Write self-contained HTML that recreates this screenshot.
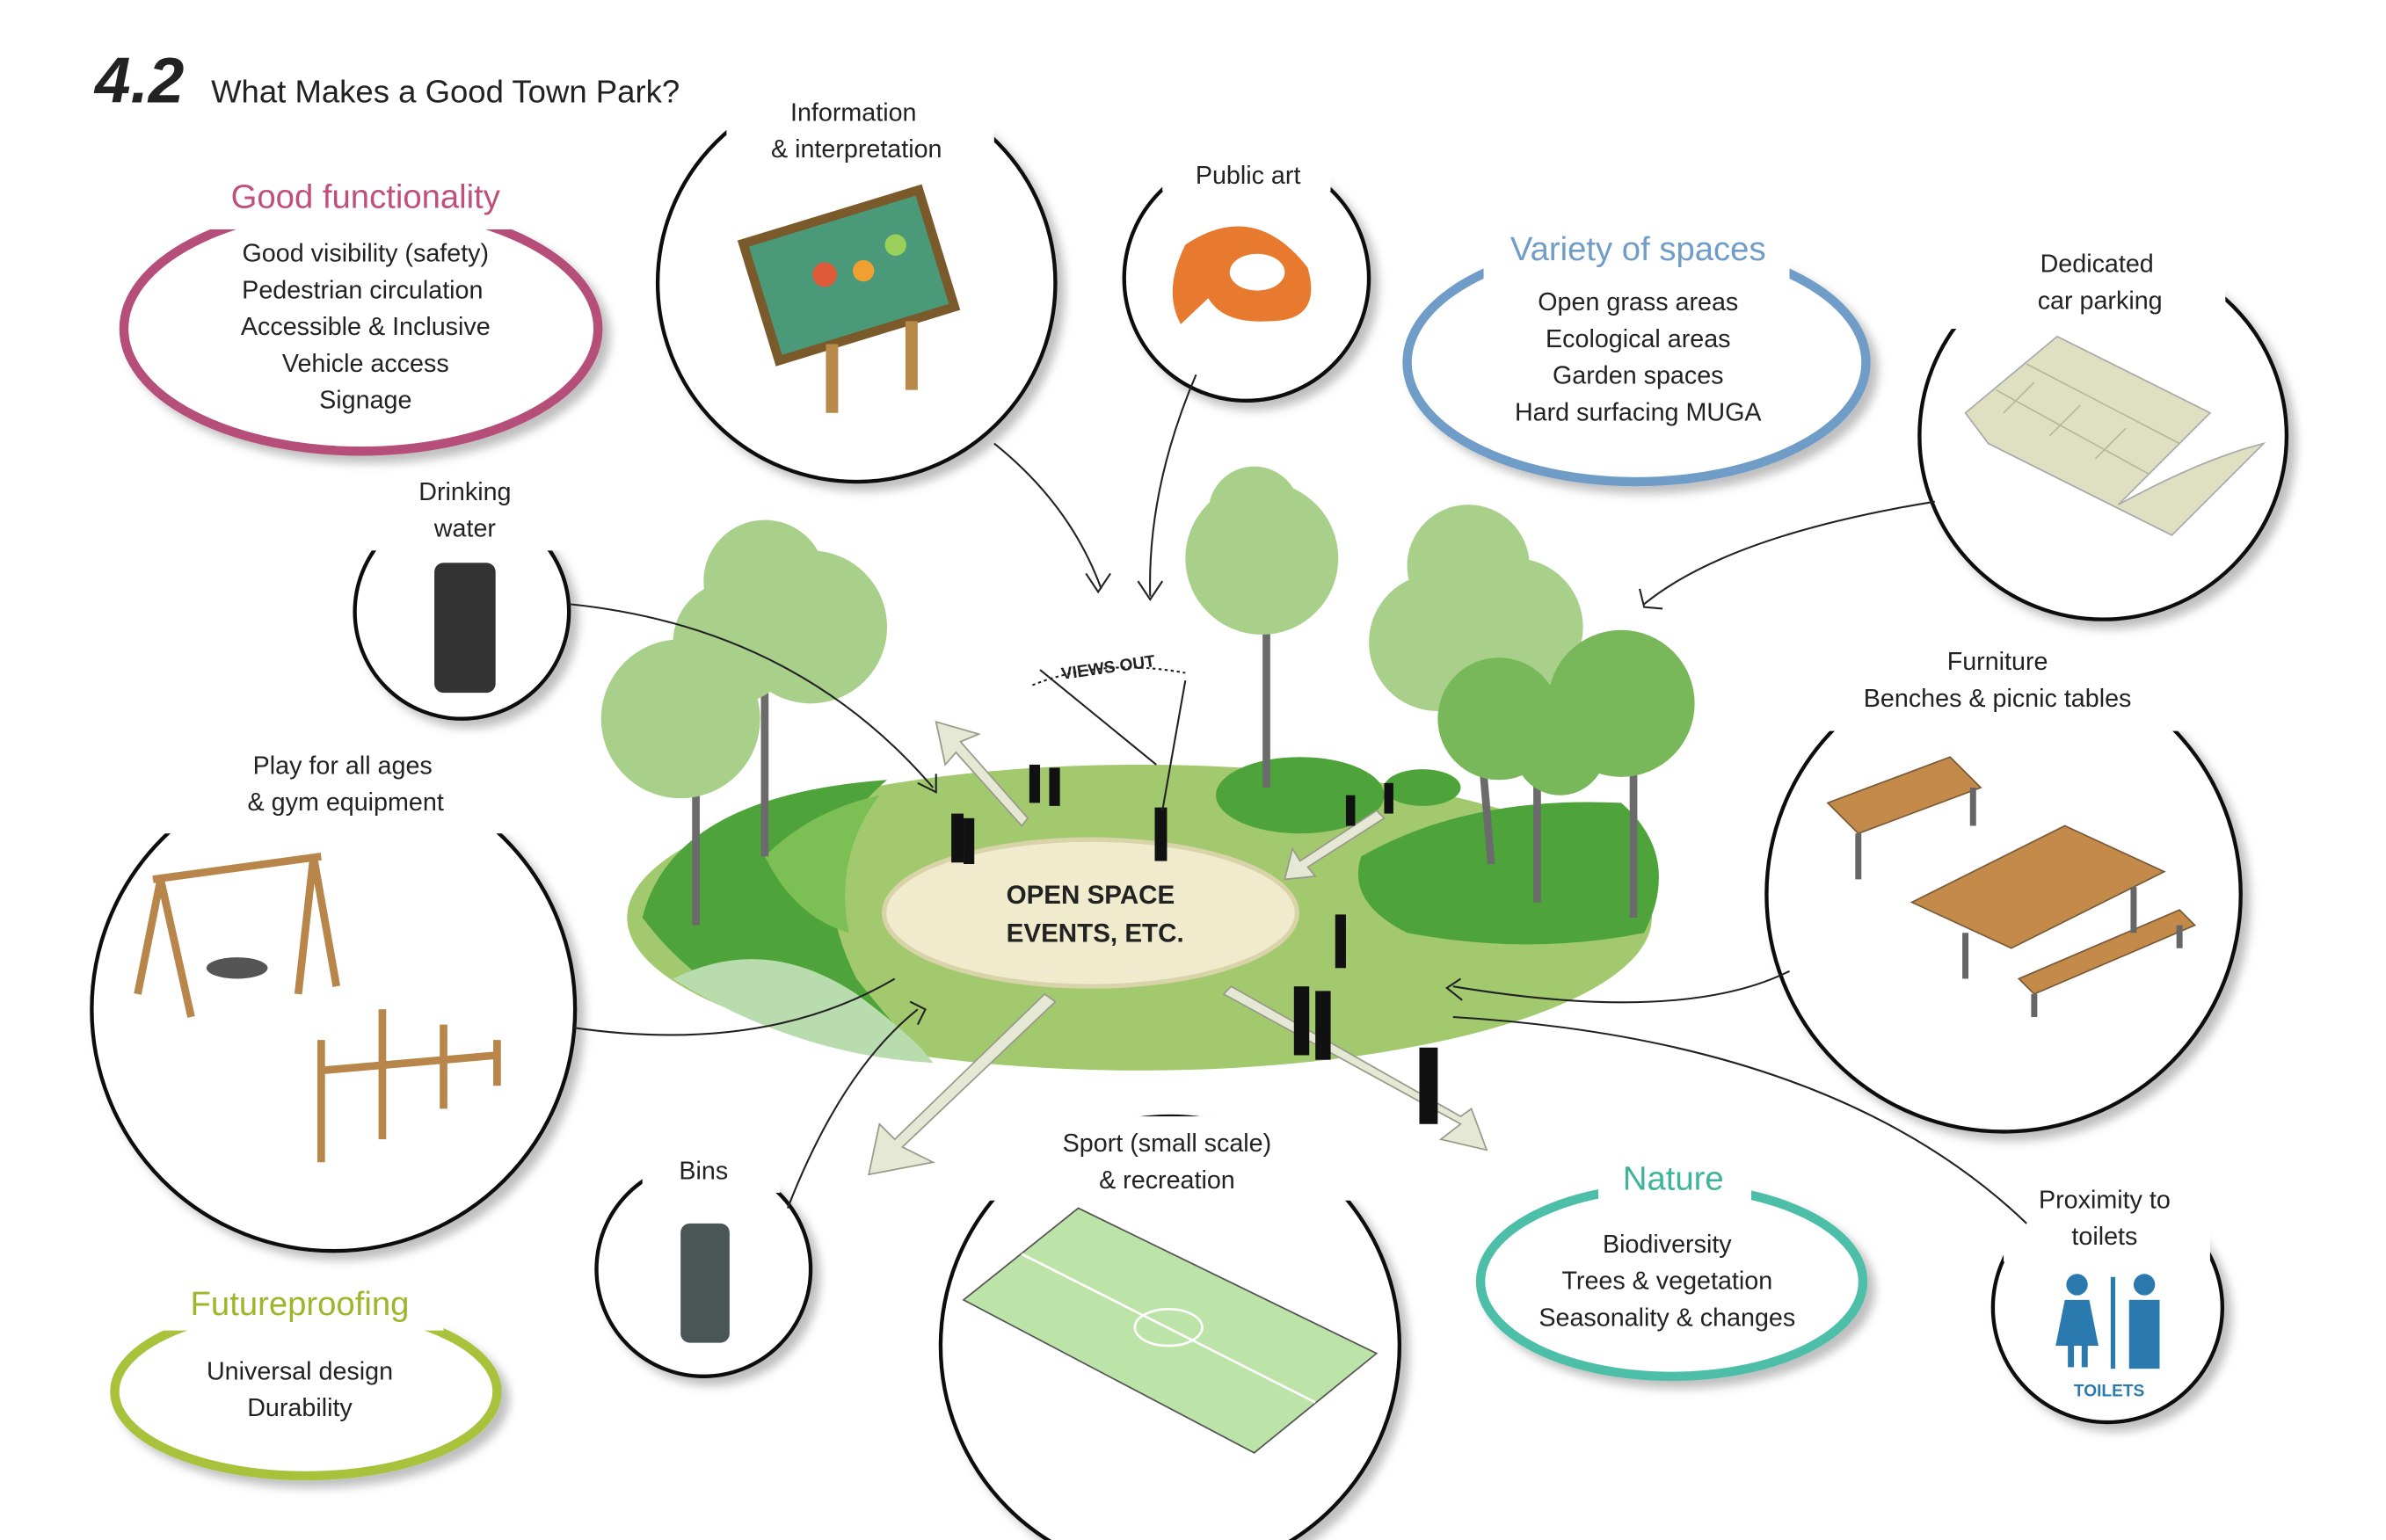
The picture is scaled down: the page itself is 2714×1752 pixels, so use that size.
<!DOCTYPE html>
<html><head><meta charset="utf-8"><style>
html,body{margin:0;padding:0;background:#fff;width:2714px;height:1752px;overflow:hidden}
svg{display:block}
text{font-family:"Liberation Sans","DejaVu Sans",sans-serif;fill:#222}
</style></head><body>
<svg width="2714" height="1752" viewBox="0 0 1560 1007" preserveAspectRatio="none" xmlns="http://www.w3.org/2000/svg">
<defs>
<filter id="sh" x="-20%" y="-20%" width="140%" height="140%"><feDropShadow dx="5" dy="5" stdDeviation="3" flood-color="#000" flood-opacity="0.25"/></filter>
</defs>
<rect width="1560" height="1007" fill="#fff"/>
<text x="62" y="67" font-size="42" font-weight="bold" font-style="italic" fill="#3a4250" font-family="Liberation Serif,serif">4.2</text>
<text x="138" y="67" font-size="21" fill="#222">What Makes a Good Town Park?</text>

<g fill="#fff" stroke="#111" stroke-width="2.5" filter="url(#sh)">
<circle cx="560" cy="185" r="130"/>
<circle cx="815" cy="182" r="80"/>
<circle cx="1375" cy="285" r="120"/>
<circle cx="302" cy="400" r="70"/>
<circle cx="1310" cy="585" r="155"/>
<circle cx="218" cy="660" r="158"/>
<circle cx="460" cy="830" r="70"/>
<circle cx="765" cy="880" r="150"/>
<circle cx="1378" cy="855" r="75"/>
</g>
<g fill="#fff">
<rect x="475" y="50" width="175" height="60"/>
<rect x="760" y="95" width="110" height="30"/>
<rect x="1265" y="155" width="190" height="60"/>
<rect x="240" y="305" width="130" height="55"/>
<rect x="1180" y="418" width="260" height="60"/>
<rect x="70" y="485" width="300" height="60"/>
<rect x="420" y="750" width="90" height="30"/>
<rect x="630" y="730" width="270" height="55"/>
<rect x="1310" y="770" width="135" height="55"/>
</g>

<g fill="#fff" stroke-width="6" filter="url(#sh)">
<ellipse cx="236" cy="215" rx="155" ry="80" stroke="#b5507a"/>
<ellipse cx="1070" cy="237" rx="150" ry="78" stroke="#6f9cc8"/>
<ellipse cx="1093" cy="838" rx="125" ry="62" stroke="#4dbfa8"/>
<ellipse cx="200" cy="910" rx="125" ry="55" stroke="#a9c23a"/>
</g>
<g fill="#fff">
<rect x="130" y="110" width="220" height="40"/>
<rect x="970" y="145" width="200" height="40"/>
<rect x="1045" y="755" width="100" height="35"/>
<rect x="105" y="835" width="185" height="35"/>
</g>
<g text-anchor="middle">
<text x="239" y="136" font-size="22" style="fill:#c0507a">Good functionality</text>
<g font-size="16.5"><text x="239" y="171">Good visibility (safety)</text><text x="237" y="195">Pedestrian circulation</text><text x="239" y="219">Accessible &amp; Inclusive</text><text x="239" y="243">Vehicle access</text><text x="239" y="267">Signage</text></g>
<text x="1071" y="170" font-size="22" style="fill:#6f9cc8">Variety of spaces</text>
<g font-size="16.5"><text x="1071" y="203">Open grass areas</text><text x="1071" y="227">Ecological areas</text><text x="1071" y="251">Garden spaces</text><text x="1071" y="275">Hard surfacing MUGA</text></g>
<text x="1094" y="778" font-size="22" style="fill:#3db59a">Nature</text>
<g font-size="16.5"><text x="1090" y="819">Biodiversity</text><text x="1090" y="843">Trees &amp; vegetation</text><text x="1090" y="867">Seasonality &amp; changes</text></g>
<text x="196" y="860" font-size="22" style="fill:#9db62a">Futureproofing</text>
<g font-size="16.5"><text x="196" y="902">Universal design</text><text x="196" y="926">Durability</text></g>
<g font-size="16.5">
<text x="558" y="79">Information</text><text x="560" y="103">&amp; interpretation</text>
<text x="816" y="120">Public art</text>
<text x="1371" y="178">Dedicated</text><text x="1373" y="202">car parking</text>
<text x="304" y="327">Drinking</text><text x="304" y="351">water</text>
<text x="1306" y="438">Furniture</text><text x="1306" y="462">Benches &amp; picnic tables</text>
<text x="224" y="506">Play for all ages</text><text x="226" y="530">&amp; gym equipment</text>
<text x="460" y="771">Bins</text>
<text x="763" y="753">Sport (small scale)</text><text x="763" y="777">&amp; recreation</text>
<text x="1376" y="790">Proximity to</text><text x="1376" y="814">toilets</text>
</g>
</g>

<ellipse cx="745" cy="600" rx="335" ry="100" fill="#a3c96e"/>
<g fill="#4ea33a">
<path d="M420 600 Q440 520 580 510 Q520 560 560 640 Q600 690 610 695 Q480 680 420 600Z"/>
<path d="M890 560 Q960 520 1060 525 Q1100 560 1075 610 Q1000 625 920 610 Q880 590 890 560Z"/>
<ellipse cx="850" cy="520" rx="55" ry="25"/>
<ellipse cx="930" cy="515" rx="25" ry="12"/>
</g>
<path d="M440 640 Q500 610 560 650 Q600 680 610 695 Q520 690 440 640Z" fill="#b8dcae"/>
<path d="M500 560 Q530 530 575 520 Q545 560 555 610 Q520 600 500 560Z" fill="#7cbf55"/>
<ellipse cx="713" cy="597" rx="135" ry="48" fill="#efebcc" stroke="#d8d3a8" stroke-width="3"/>
<text x="713" y="591" text-anchor="middle" font-size="17" font-weight="bold" fill="#222">OPEN SPACE</text>
<text x="716" y="616" text-anchor="middle" font-size="17" font-weight="bold" fill="#222">EVENTS, ETC.</text>
<text x="725" y="440" text-anchor="middle" font-size="11" font-weight="bold" transform="rotate(-8 725 440)">VIEWS OUT</text>
<g stroke="#6b6b6b" stroke-width="5"><line x1="455" y1="480" x2="455" y2="605"/><line x1="500" y1="400" x2="500" y2="560"/><line x1="828" y1="390" x2="828" y2="515"/><line x1="960" y1="390" x2="975" y2="565"/><line x1="1005" y1="480" x2="1005" y2="590"/><line x1="1068" y1="480" x2="1068" y2="600"/></g>
<g fill="#a8d08a">
<circle cx="500" cy="380" r="40"/><circle cx="530" cy="410" r="50"/><circle cx="480" cy="420" r="40"/>
<circle cx="445" cy="470" r="52"/>
<circle cx="825" cy="365" r="50"/><circle cx="820" cy="335" r="30"/>
<circle cx="960" cy="370" r="40"/><circle cx="940" cy="420" r="45"/><circle cx="990" cy="410" r="45"/>
</g>
<g fill="#78b85a"><circle cx="980" cy="470" r="40"/><circle cx="1060" cy="460" r="48"/><circle cx="1020" cy="490" r="30"/></g>
<g fill="#e6e8d6" stroke="#9a9a8a" stroke-width="1">
<path d="M690 655 L590 750 L610 760 L568 768 L575 735 L585 745 L683 650Z"/>
<path d="M800 650 L955 735 L942 745 L972 752 L962 725 L955 730 L805 645Z"/>
<path d="M672 535 L628 485 L640 480 L612 472 L618 500 L625 492 L668 540Z"/>
<path d="M900 530 L850 563 L845 555 L840 575 L860 573 L855 567 L905 535Z"/>
</g>
<g fill="#111"><rect x="673" y="500" width="7" height="25"/><rect x="686" y="502" width="7" height="25"/><rect x="755" y="528" width="8" height="35"/><rect x="622" y="532" width="8" height="32"/><rect x="630" y="535" width="7" height="30"/><rect x="873" y="598" width="7" height="35"/><rect x="846" y="645" width="10" height="45"/><rect x="860" y="648" width="10" height="45"/><rect x="928" y="685" width="12" height="50"/><rect x="880" y="520" width="6" height="20"/><rect x="905" y="512" width="6" height="20"/></g>
<g fill="none" stroke="#222" stroke-width="1.2">
<path d="M650 290 Q700 330 720 385"/><path d="M710 375 L718 387 L726 375"/>
<path d="M782 245 Q750 320 752 390"/><path d="M744 380 L752 392 L760 380"/>
<path d="M1265 328 Q1130 350 1075 395"/><path d="M1072 385 L1075 397 L1087 398"/>
<path d="M372 395 Q520 410 610 515"/><path d="M600 512 L612 518 L612 506"/>
<path d="M1170 635 Q1100 670 950 645"/><path d="M955 640 L946 646 L956 654"/>
<path d="M1325 800 Q1200 680 950 665"/>
<path d="M375 672 Q500 690 585 640"/><path d="M595 655 L605 660 L600 670"/>
<path d="M515 790 Q550 700 600 660"/>
<path d="M680 438 L756 500 M775 445 L760 530"/>
<path d="M675 448 Q720 430 775 440" stroke-dasharray="2 2"/>
</g>
<g transform="rotate(-17 555 180)"><rect x="495" y="140" width="120" height="80" fill="#4a9a7a" stroke="#7a5a2a" stroke-width="6"/><circle cx="540" cy="175" r="8" fill="#e05a3a"/><circle cx="565" cy="180" r="7" fill="#f0a030"/><circle cx="590" cy="170" r="7" fill="#9ad05a"/></g>
<rect x="540" y="225" width="8" height="45" fill="#b88a4a"/><rect x="592" y="210" width="8" height="45" fill="#b88a4a"/>
<path d="M775 160 Q820 130 855 175 Q865 210 830 210 Q800 212 790 195 L772 212 Q760 190 775 160Z" fill="#e87a30"/>
<ellipse cx="822" cy="178" rx="18" ry="12" fill="#fff"/>
<path d="M1285 270 L1345 220 L1445 270 L1385 330 Q1440 300 1480 290 L1420 350 Q1380 330 1300 290Z" fill="#dfe0c2" stroke="#aaa"/>
<g stroke="#b8b89a" stroke-width="1"><path d="M1305 255 L1405 310 M1325 238 L1425 290 M1330 250 L1310 270 M1360 265 L1340 285 M1390 280 L1370 300"/></g>
<rect x="284" y="368" width="40" height="85" rx="6" fill="#333"/>
<rect x="445" y="800" width="32" height="78" rx="6" fill="#4a5555"/>
<g stroke="#b8864a" stroke-width="5" fill="none"><path d="M90 650 L105 575 L125 665 M195 650 L205 560 L220 645 M100 575 L210 560"/><path d="M210 680 V760 M250 660 V745 M290 670 V725 M325 680 V710 M210 700 L325 690"/></g>
<ellipse cx="155" cy="633" rx="20" ry="7" fill="#555"/>
<path d="M1195 525 L1275 495 L1295 515 L1215 545Z M1250 590 L1350 540 L1415 570 L1315 620Z M1320 640 L1425 595 L1435 605 L1330 650Z" fill="#c48a4a" stroke="#7a5a3a"/>
<g stroke="#666" stroke-width="4"><path d="M1215 545 V575 M1290 515 V540 M1285 610 V640 M1395 580 V610 M1330 650 V665 M1425 605 V620"/></g>
<path d="M630 850 L705 790 L900 885 L820 950Z" fill="#bde4a8" stroke="#555"/>
<g stroke="#fff" stroke-width="1.5" fill="none"><path d="M668 820 L860 917"/><ellipse cx="764" cy="868" rx="22" ry="12"/></g>
<g fill="#2a7ab0"><circle cx="1358" cy="840" r="7"/><path d="M1350 850 H1366 L1372 880 H1344Z"/><rect x="1352" y="878" width="4" height="16"/><rect x="1361" y="878" width="4" height="16"/><rect x="1380" y="835" width="3" height="60"/><circle cx="1402" cy="840" r="7"/><rect x="1392" y="850" width="20" height="45"/></g>
<text x="1379" y="913" text-anchor="middle" font-size="11" font-weight="bold" style="fill:#2a7ab0">TOILETS</text>
</svg>
</body></html>
